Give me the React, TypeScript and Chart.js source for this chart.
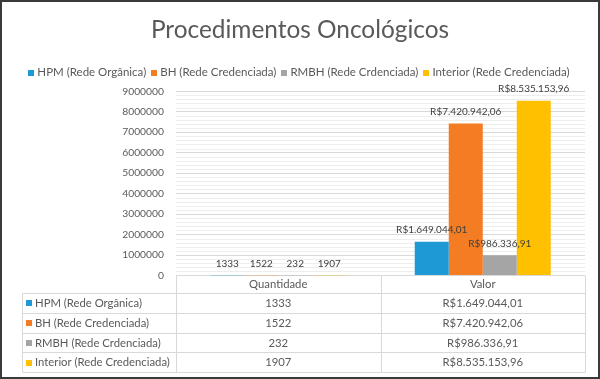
import React, { useEffect, useRef } from 'react';
import { Chart, registerables } from 'chart.js';

Chart.register(...registerables);

const chartTitle = 'Procedimentos Oncológicos';
const categories = ['Quantidade', 'Valor'];
const seriesNames = [
  'HPM (Rede Orgânica)',
  'BH (Rede Credenciada)',
  'RMBH (Rede Crdenciada)',
  'Interior (Rede Credenciada)',
];
const quantidade = [1333, 1522, 232, 1907];
const valor = [1649044.01, 7420942.06, 986336.91, 8535153.96];
const seriesColors = ['#1F98D6', '#F47C22', '#A5A5A5', '#FFC000'];
const yMin = 0;
const yMax = 9000000;
const yStep = 1000000;
const yMinorStep = 200000;

const FONT = 'Lato, Calibri, "Liberation Sans", sans-serif';
const TEXT = '#595959';
const LABEL = '#404040';
const GRID = '#d9d9d9';
const MINOR = '#eeeeee';
const TABLE_LINE = '#d9d9d9';

function formatBRL(v: number): string {
  const [i, d] = v.toFixed(2).split('.');
  return 'R$' + i.replace(/\B(?=(\d{3})+(?!\d))/g, '.') + ',' + d;
}

function formatCell(catIndex: number, v: number): string {
  return catIndex === 1 ? formatBRL(v) : String(v);
}

const decorPlugin = {
  id: 'decor',
  beforeDraw(chart: any) {
    const { ctx, width, height } = chart;
    ctx.save();
    ctx.fillStyle = '#ffffff';
    ctx.fillRect(0, 0, width, height);
    ctx.restore();
  },
  beforeDatasetsDraw(chart: any) {
    const { ctx, chartArea } = chart;
    const ys = chart.scales.y;
    ctx.save();
    ctx.strokeStyle = MINOR;
    ctx.lineWidth = 1;
    for (let v = yMin + yMinorStep; v < yMax; v += yMinorStep) {
      if (Math.abs(v % yStep) < 1) continue;
      const y = Math.round(ys.getPixelForValue(v)) + 0.5;
      ctx.beginPath();
      ctx.moveTo(chartArea.left, y);
      ctx.lineTo(chartArea.right, y);
      ctx.stroke();
    }
    ctx.restore();
  },
  afterDatasetsDraw(chart: any) {
    const { ctx } = chart;
    ctx.save();
    ctx.font = `10px ${FONT}`;
    ctx.fillStyle = LABEL;
    ctx.textAlign = 'center';
    ctx.textBaseline = 'middle';
    chart.data.datasets.forEach((ds: any, di: number) => {
      const meta = chart.getDatasetMeta(di);
      meta.data.forEach((el: any, i: number) => {
        ctx.fillText(formatCell(i, ds.data[i]), el.x, el.y - 12);
      });
    });
    ctx.restore();
  },
  afterDraw(chart: any) {
    const { ctx, chartArea } = chart;
    const xs = chart.scales.x;
    ctx.save();
    // Legend
    ctx.font = `11.5px ${FONT}`;
    ctx.textBaseline = 'middle';
    ctx.textAlign = 'left';
    const sq = 6;
    const gapSq = 3;
    const gapItem = 5;
    const widths = seriesNames.map((n) => ctx.measureText(n).width);
    const total =
      widths.reduce((a, b) => a + b, 0) + seriesNames.length * (sq + gapSq) + (seriesNames.length - 1) * gapItem;
    let lx = 299 - total / 2;
    const ly = 72.5;
    seriesNames.forEach((n, i) => {
      ctx.fillStyle = seriesColors[i];
      ctx.fillRect(Math.round(lx), Math.round(ly - sq / 2), sq, sq);
      ctx.fillStyle = TEXT;
      ctx.fillText(n, lx + sq + gapSq, ly);
      lx += sq + gapSq + widths[i] + gapItem;
    });

    // Data table
    const tLeft = 22;
    const left = chartArea.left;
    const right = chartArea.right;
    const mid = (xs.getPixelForValue(0) + xs.getPixelForValue(1)) / 2;
    const top = chartArea.bottom;
    const headerBottom = 293;
    const rowH = 19.75;
    const bottom = headerBottom + rowH * seriesNames.length;
    const px = (v: number) => Math.round(v) + 0.5;
    ctx.strokeStyle = TABLE_LINE;
    ctx.lineWidth = 1;
    ctx.beginPath();
    [left, mid, right].forEach((x) => {
      ctx.moveTo(px(x), top);
      ctx.lineTo(px(x), px(bottom));
    });
    ctx.moveTo(px(tLeft), px(headerBottom));
    ctx.lineTo(px(tLeft), px(bottom));
    for (let r = 0; r <= seriesNames.length; r++) {
      const y = px(headerBottom + r * rowH);
      ctx.moveTo(px(tLeft), y);
      ctx.lineTo(px(right), y);
    }
    ctx.stroke();

    ctx.font = `11.3px ${FONT}`;
    ctx.fillStyle = TEXT;
    ctx.textAlign = 'center';
    categories.forEach((c, ci) => {
      ctx.fillText(c, xs.getPixelForValue(ci), (top + headerBottom) / 2 + 0.5);
    });
    chart.data.datasets.forEach((ds: any, di: number) => {
      const cy = headerBottom + rowH * di + rowH / 2 + 0.5;
      ctx.fillStyle = seriesColors[di];
      ctx.fillRect(26, Math.round(cy - 3), 6, 6);
      ctx.fillStyle = TEXT;
      ctx.textAlign = 'left';
      ctx.fillText(ds.label, 35, cy);
      ctx.textAlign = 'center';
      categories.forEach((_, ci) => {
        ctx.fillText(formatCell(ci, ds.data[ci]), xs.getPixelForValue(ci), cy);
      });
    });

    // Outer border
    ctx.strokeStyle = '#3a3a3a';
    ctx.lineWidth = 2;
    ctx.strokeRect(1, 1, chart.width - 2, chart.height - 2);
    ctx.restore();
  },
};

export default function App() {
  const canvasRef = useRef<HTMLCanvasElement | null>(null);

  useEffect(() => {
    document.body.style.margin = '0';
    const canvas = canvasRef.current;
    if (!canvas) return;
    const chart = new Chart(canvas, {
      type: 'bar',
      data: {
        labels: categories,
        datasets: seriesNames.map((name, i) => ({
          label: name,
          data: [quantidade[i], valor[i]],
          backgroundColor: seriesColors[i],
          borderWidth: 0,
          categoryPercentage: 0.665,
          barPercentage: 1,
        })),
      },
      options: {
        responsive: false,
        animation: false,
        devicePixelRatio: 1,
        layout: { padding: { left: 15, right: 15, top: 0, bottom: 103.5 } },
        plugins: {
          legend: { display: false },
          tooltip: { enabled: false },
          title: {
            display: true,
            text: chartTitle,
            color: TEXT,
            font: { family: FONT, size: 24.4, weight: 'normal' },
            padding: { top: 16, bottom: 45.9 },
          },
        },
        scales: {
          x: { display: false },
          y: {
            min: yMin,
            max: yMax,
            ticks: {
              stepSize: yStep,
              padding: 12,
              color: TEXT,
              font: { family: FONT, size: 10.3 },
              callback: (v: any) => String(v),
            },
            grid: { color: GRID, drawTicks: false },
            border: { display: false },
            afterFit: (s: any) => {
              s.width = 161;
            },
          },
        },
      } as any,
      plugins: [decorPlugin],
    });
    return () => chart.destroy();
  }, []);

  return (
    <div style={{ position: 'absolute', left: 0, top: 0, width: 600, height: 379 }}>
      <canvas ref={canvasRef} width={600} height={379} style={{ display: 'block' }} />
    </div>
  );
}
